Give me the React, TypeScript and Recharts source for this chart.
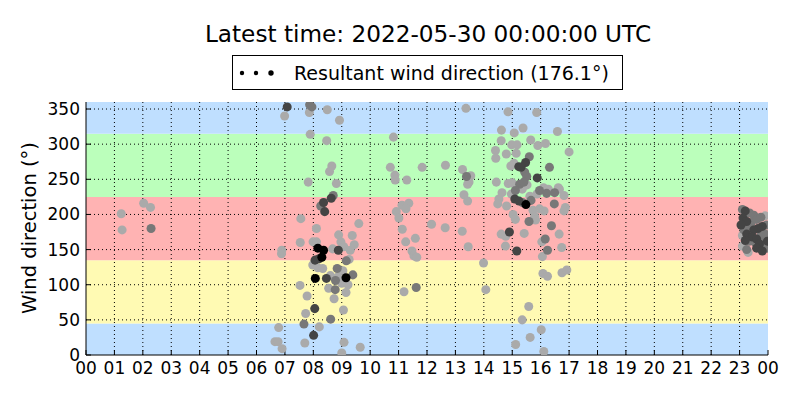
import React from 'react';
import { ScatterChart, Scatter, XAxis, YAxis, ZAxis, ReferenceArea, ReferenceLine } from 'recharts';

const TITLE = 'Latest time: 2022-05-30 00:00:00 UTC';
const LEGEND_LABEL = 'Resultant wind direction (176.1°)';
const Y_LABEL = 'Wind direction (°)';

const hourTicks = [0, 1, 2, 3, 4, 5, 6, 7, 8, 9, 10, 11, 12, 13, 14, 15, 16, 17, 18, 19, 20, 21, 22, 23, 24];
const dirTicks = [0, 50, 100, 150, 200, 250, 300, 350];

// sector bands (degrees)
const bandFrom = [0, 45, 135, 225, 315];
const bandTo = [45, 135, 225, 315, 360];
const bandColors = ['#bfdfff', '#fffab3', '#ffb3b3', '#bbffbb', '#bfdfff'];

// [hour, direction]
const lightPts: number[][] = [
  [1.24, 201], [1.27, 178], [2.03, 216], [2.27, 210],
  [6.99, 340], [7.86, 345], [8.49, 349], [8.92, 334], [7.89, 314], [8.47, 305], [8.65, 269], [8.57, 261],
  [7.82, 246], [8.81, 244], [7.56, 194], [9.6, 187], [8.11, 180], [7.54, 160], [7.99, 161], [8.11, 161],
  [8.89, 171], [9.37, 170], [9.44, 157], [8.97, 161], [6.89, 149], [6.88, 144], [8.68, 151], [9.07, 154],
  [9.3, 149], [9.26, 136], [7.98, 128], [8.16, 124], [8.33, 123], [9.04, 120], [8.6, 113], [8.86, 111],
  [9.0, 102], [9.22, 100], [8.54, 95], [9.15, 89], [7.53, 99], [7.78, 84], [8.73, 80], [9.06, 64],
  [7.73, 59], [8.21, 40], [6.78, 39], [6.65, 19], [6.76, 19], [7.7, 17], [9.08, 18], [9.65, 11],
  [6.9, 9], [9.0, 3],
  [13.37, 351], [10.82, 310], [10.71, 267], [11.83, 267], [12.65, 270], [13.25, 264], [10.87, 256],
  [10.88, 249], [11.29, 249], [13.54, 255], [13.48, 246], [13.43, 243], [13.3, 228], [13.43, 219],
  [11.12, 213], [11.36, 216], [11.26, 208], [10.92, 204], [11.01, 195], [12.16, 186], [12.64, 181],
  [13.24, 176], [11.13, 179], [11.59, 166], [11.25, 161], [13.45, 154], [11.47, 148], [11.54, 141],
  [11.64, 139], [13.99, 131], [11.19, 90], [14.07, 93],
  [14.85, 346], [15.86, 345], [15.38, 323], [14.62, 320], [15.07, 316], [16.59, 318], [14.61, 305],
  [14.98, 299], [15.17, 299], [15.65, 306], [15.9, 298], [16.17, 301], [14.41, 291], [14.79, 286],
  [15.14, 287], [17.0, 289], [14.42, 280], [15.06, 273], [14.95, 269], [14.44, 246], [14.86, 244],
  [15.0, 245], [15.52, 242], [15.35, 236], [16.1, 238], [16.27, 236], [16.62, 238], [16.66, 236],
  [14.64, 231], [14.97, 229], [15.62, 226], [15.87, 229], [16.82, 227], [14.53, 222], [14.49, 215],
  [14.8, 212], [16.87, 210], [16.82, 205], [15.73, 206], [15.96, 208], [16.12, 205], [15.03, 200],
  [15.11, 193], [15.79, 197], [15.82, 192], [14.61, 172], [14.77, 169], [15.42, 173], [16.65, 172],
  [16.04, 161], [14.76, 155], [16.74, 153], [16.06, 140], [16.08, 116], [16.24, 112], [16.75, 117],
  [16.92, 121], [15.58, 69], [15.35, 50], [16.02, 36], [15.63, 25], [15.12, 15], [16.11, 5],
  [23.1, 170], [23.1, 155], [23.3, 146], [23.9, 198],
];

const midPts: number[][] = [
  [2.29, 180],
  [7.87, 356], [7.95, 353], [8.7, 227], [8.26, 212], [9.16, 134], [8.84, 123], [9.39, 114], [8.78, 106],
  [8.77, 93], [8.61, 51], [7.67, 44],
  [13.39, 254], [11.62, 96],
  [15.6, 282], [16.31, 267], [15.44, 260], [15.51, 254], [15.26, 243], [15.41, 246], [15.11, 234],
  [15.96, 234], [16.21, 230], [16.49, 231], [15.36, 217], [15.66, 220], [16.48, 215], [15.59, 190],
  [16.38, 184], [16.16, 165], [16.24, 149],
  [23.1, 207], [23.35, 202], [23.5, 199], [23.4, 188], [23.6, 193], [23.75, 196], [23.95, 185],
  [23.3, 182], [23.15, 178], [23.75, 170], [23.9, 172], [23.85, 160], [23.55, 160], [23.35, 162],
  [23.25, 150], [23.97, 152],
];

const darkPts: number[][] = [
  [7.08, 353], [8.63, 223], [8.36, 217], [8.4, 204], [8.88, 149], [8.2, 137], [8.06, 135], [8.46, 109],
  [8.05, 66], [8.01, 28],
  [15.47, 274], [15.23, 268], [15.31, 267], [15.88, 252], [15.09, 222], [15.24, 219], [14.9, 175], [15.16, 148],
  [23.2, 205], [23.12, 195], [23.25, 190], [23.8, 183], [23.65, 180], [23.5, 178], [23.25, 172],
  [23.45, 168], [23.6, 165], [23.98, 162], [23.7, 158], [23.2, 163], [23.6, 152], [23.8, 148], [23.05, 185],
];

const blackPts: number[][] = [
  [8.16, 152], [8.36, 149], [8.3, 139], [8.07, 109], [9.15, 110],
  [15.48, 214],
];

const toRows = (pts: number[][]) => pts.map(([t, dir]) => ({ t, dir }));

const seriesDefs = [
  { name: 'light', data: toRows(lightPts), color: '#aaaaaa' },
  { name: 'mid', data: toRows(midPts), color: '#787878' },
  { name: 'dark', data: toRows(darkPts), color: '#444444' },
  { name: 'black', data: toRows(blackPts), color: '#000000' },
];

const fmtHour = (h: number) => String(h % 24).padStart(2, '0');
const FONT = '"DejaVu Sans", sans-serif';
const gridHours = hourTicks.slice(1, -1);
const gridDirs = dirTicks.slice(1);

export default function App() {
  return (
    <div style={{ position: 'absolute', left: 0, top: 0, width: 800, height: 400, background: '#fff', fontFamily: FONT }}>
      <ScatterChart width={800} height={400} margin={{ top: 102, right: 32, bottom: 0, left: 0 }}>
        {bandFrom.map((f, i) => (
          <ReferenceArea key={'b' + i} x1={0} x2={24} y1={f} y2={bandTo[i]} fill={bandColors[i]} fillOpacity={1} stroke="none" ifOverflow="hidden" />
        ))}
        {gridHours.map((h) => (
          <ReferenceLine key={'gx' + h} x={h} stroke="#000" strokeDasharray="1 3" strokeWidth={1} />
        ))}
        {gridDirs.map((d) => (
          <ReferenceLine key={'gy' + d} y={d} stroke="#000" strokeDasharray="1 3" strokeWidth={1} />
        ))}
        <XAxis
          type="number" dataKey="t" domain={[0, 24]} ticks={hourTicks} interval={0}
          tickFormatter={fmtHour} height={45} tickSize={-5} tickMargin={12}
          tick={{ fill: '#000', fontSize: 17, fontFamily: FONT }}
          axisLine={{ stroke: '#000' }} tickLine={{ stroke: '#000' }} allowDataOverflow
        />
        <XAxis
          xAxisId="top" orientation="top" type="number" domain={[0, 24]} ticks={hourTicks} interval={0}
          height={0} tickSize={-5} tick={false} axisLine={{ stroke: '#000' }} tickLine={{ stroke: '#000' }}
        />
        <YAxis
          type="number" dataKey="dir" domain={[0, 360]} ticks={dirTicks} interval={0}
          width={86} tickSize={-5} tickMargin={11}
          tick={{ fill: '#000', fontSize: 17, fontFamily: FONT }}
          axisLine={{ stroke: '#000' }} tickLine={{ stroke: '#000' }} allowDataOverflow
        />
        <YAxis
          yAxisId="right" orientation="right" type="number" domain={[0, 360]} ticks={dirTicks} interval={0}
          width={0} tickSize={-5} tick={false} axisLine={{ stroke: '#000' }} tickLine={{ stroke: '#000' }}
        />
        <ZAxis range={[38, 38]} />
        {seriesDefs.map((s) => (
          <Scatter key={s.name} name={s.name} data={s.data} fill={s.color} stroke="none" isAnimationActive={false} />
        ))}
      </ScatterChart>
      <svg width={800} height={400} style={{ position: 'absolute', left: 0, top: 0, pointerEvents: 'none' }}>
        <text x={428} y={42} textAnchor="middle" fontSize={23.2} fontFamily={FONT} fill="#000">{TITLE}</text>
        <rect x={232.5} y={55.5} width={390} height={34} fill="#fff" stroke="#000" strokeWidth={1} />
        <circle cx={242} cy={73} r={2.2} fill="#000" />
        <circle cx={256} cy={73} r={2.2} fill="#000" />
        <circle cx={271} cy={73} r={2.7} fill="#000" />
        <text x={294} y={80} fontSize={19} fontFamily={FONT} fill="#000">{LEGEND_LABEL}</text>
        <text x={36} y={228} transform="rotate(-90 36 228)" textAnchor="middle" fontSize={19.5} fontFamily={FONT} fill="#000">{Y_LABEL}</text>
      </svg>
    </div>
  );
}
